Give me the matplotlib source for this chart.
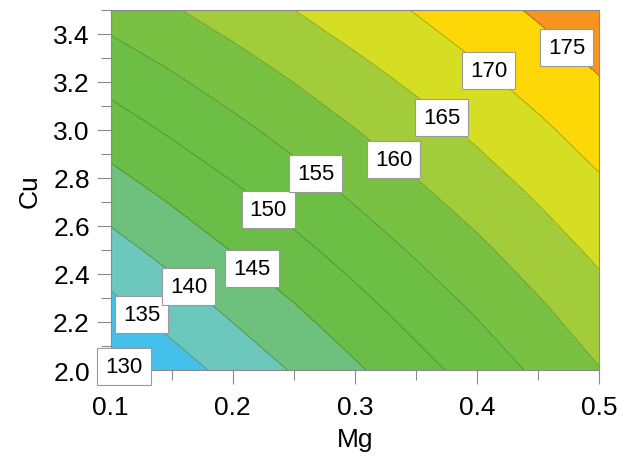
import matplotlib
matplotlib.use("Agg")
import matplotlib.pyplot as plt
import numpy as np
from matplotlib.ticker import MultipleLocator

plt.rcParams["font.family"] = ["Liberation Sans", "DejaVu Sans"]

# grid
mg = [0.10, 0.15, 0.20, 0.25, 0.30, 0.35, 0.40, 0.45, 0.50]
cu = [2.00, 2.25, 2.50, 2.75, 3.00, 3.25, 3.50]

z_cu200 = [128.9, 132.7, 136.6, 140.4, 144.3, 148.2, 152.0, 155.9, 159.8]
z_cu225 = [133.5, 137.2, 140.9, 144.5, 148.2, 151.9, 155.5, 159.2, 162.9]
z_cu250 = [138.2, 141.7, 145.2, 148.6, 152.1, 155.6, 159.0, 162.5, 166.0]
z_cu275 = [142.9, 146.2, 149.4, 152.7, 156.0, 159.3, 162.5, 165.8, 169.1]
z_cu300 = [147.6, 150.7, 153.7, 156.8, 159.9, 162.9, 166.0, 169.1, 172.2]
z_cu325 = [152.3, 155.1, 158.0, 160.9, 163.8, 166.6, 169.5, 172.4, 175.3]
z_cu350 = [157.0, 159.6, 162.3, 165.0, 167.7, 170.3, 173.0, 175.7, 178.4]

fill_levels = [120, 135, 140, 145, 150, 155, 160, 165, 170, 175, 180]
line_levels = [135, 140, 145, 150, 155, 160, 165, 170, 175]
label_levels = [130, 135, 140, 145, 150, 155, 160, 165, 170, 175]
band_colors = ["#45C0EB", "#6CC7BD", "#6EC17D", "#6ABD46", "#6DBE45",
               "#79C143", "#A3CC3A", "#D5DE23", "#FED706", "#F7931E"]

# where the boxed labels sit (Mg, Cu)
label_spots = [(0.113, 2.028), (0.125, 2.228), (0.164, 2.350), (0.216, 2.424),
               (0.229, 2.669), (0.268, 2.820), (0.332, 2.875), (0.371, 3.051),
               (0.409, 3.244), (0.474, 3.345)]

Z = np.array([z_cu200, z_cu225, z_cu250, z_cu275, z_cu300, z_cu325, z_cu350])
X, Y = np.meshgrid(mg, cu)

fig = plt.figure(figsize=(6.31, 4.64), dpi=100)
ax = fig.add_axes([0.1754, 0.2004, 0.7739, 0.7767])

ax.contourf(X, Y, Z, levels=fill_levels, colors=band_colors)
ax.contour(X, Y, Z, levels=line_levels, colors="#1f5a1f",
           linewidths=0.6, alpha=0.45)

# invisible contour set just to carry the boxed labels
cs = ax.contour(X, Y, Z, levels=label_levels, colors="none", linewidths=0)
ax.clabel(cs, levels=label_levels, fmt="%d", inline=False,
          manual=label_spots, fontsize=16, colors="black")
for t in cs.labelTexts:
    t.set_rotation(0)
    t.set_alpha(1)
    t.set_color("black")
    t.set_clip_on(False)
    t.set_zorder(10)
    t.set_bbox(dict(boxstyle="square,pad=0.36", facecolor="white",
                    edgecolor="#9a9a9a", linewidth=0.8))

ax.set_xlim(0.1, 0.5)
ax.set_ylim(2.0, 3.5)
ax.xaxis.set_major_locator(MultipleLocator(0.1))
ax.xaxis.set_minor_locator(MultipleLocator(0.05))
ax.yaxis.set_minor_locator(MultipleLocator(0.1))
ax.set_xticks([0.1, 0.2, 0.3, 0.4, 0.5])
ax.set_xticklabels(["0.1", "0.2", "0.3", "0.4", "0.5"])
ax.set_yticks([2.0, 2.2, 2.4, 2.6, 2.8, 3.0, 3.2, 3.4])
ax.set_yticklabels(["2.0", "2.2", "2.4", "2.6", "2.8", "3.0", "3.2", "3.4"])

ax.tick_params(which="major", length=10, width=0.8, color="#8a8a8a",
               labelsize=19, pad=5)
ax.tick_params(axis="x", which="major", pad=8)
ax.tick_params(which="minor", length=7, width=0.8, color="#8a8a8a")
for s in ax.spines.values():
    s.set_color("#8a8a8a")
    s.set_linewidth(0.8)

ax.set_xlabel("Mg", fontsize=19, labelpad=6)
ax.set_ylabel("Cu", fontsize=19, labelpad=8)

fig.savefig("out.png", dpi=100)
